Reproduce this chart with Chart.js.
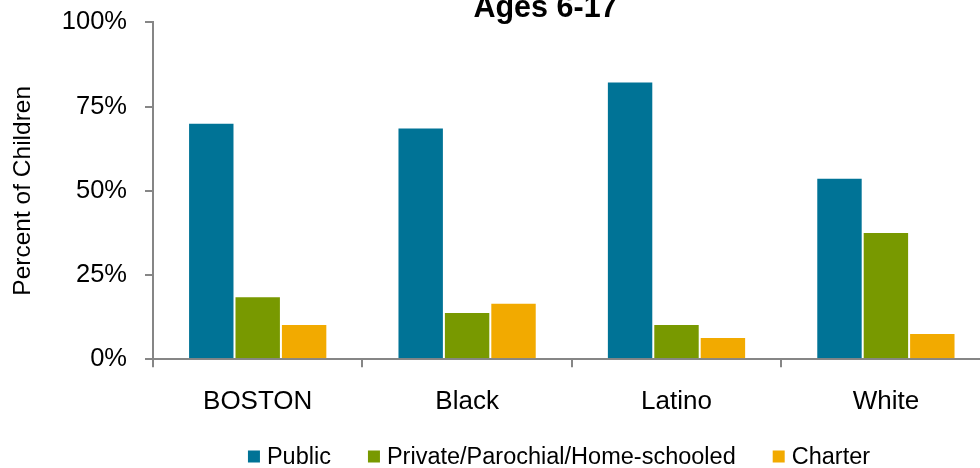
<!DOCTYPE html>
<html>
<head>
<meta charset="utf-8">
<script src="https://cdn.jsdelivr.net/npm/chart.js@4/dist/chart.umd.min.js"></script>
<style>
  html, body { margin: 0; padding: 0; overflow: hidden; background: #fff; width: 980px; height: 468px; }
  #wrap { position: absolute; left: 0; top: 0; width: 992px; height: 468px; }
</style>
</head>
<body>
<div id="wrap"><canvas id="c"></canvas></div>
<script>
const chartTitle = "Ages 6-17";
const yAxisTitle = "Percent of Children";
const categories = ["BOSTON", "Black", "Latino", "White"];
const seriesNames = ["Public", "Private/Parochial/Home-schooled", "Charter"];
const publicValues = [70.2, 68.8, 82.4, 53.9];
const privateValues = [18.7, 14.0, 10.5, 37.8];
const charterValues = [10.5, 16.8, 6.6, 7.8];
const yTicks = [0, 25, 50, 75, 100];
const seriesColors = ["#007396", "#789900", "#F2AA00"];

const FONT = "'Liberation Sans', Arial, sans-serif";
const AXIS_COLOR = "#868686";

const titlePlugin = {
  id: "customTitle",
  afterDraw(chart) {
    const ctx = chart.ctx;
    ctx.save();
    ctx.font = "bold 30.5px " + FONT;
    ctx.fillStyle = "#000";
    ctx.textAlign = "center";
    ctx.textBaseline = "alphabetic";
    ctx.fillText(chartTitle, 545.5, 17);
    ctx.restore();
  }
};

const legendPlugin = {
  id: "customLegend",
  afterDraw(chart) {
    const ctx = chart.ctx;
    ctx.save();
    ctx.font = "23.5px " + FONT;
    const box = 12, boxGap = 7, itemGap = 37;
    const items = chart.data.datasets.map(d => ({ label: d.label, color: d.backgroundColor, w: ctx.measureText(d.label).width }));
    const total = items.reduce((s, it) => s + box + boxGap + it.w, 0) + itemGap * (items.length - 1);
    let x = 559 - total / 2;
    const cy = 456.5;
    items.forEach(it => {
      ctx.fillStyle = it.color;
      ctx.fillRect(x, cy - box / 2, box, box);
      x += box + boxGap;
      ctx.fillStyle = "#000";
      ctx.textAlign = "left";
      ctx.textBaseline = "middle";
      ctx.fillText(it.label, x, cy + 1);
      x += it.w + itemGap;
    });
    ctx.restore();
  }
};

const mk = (i, vals) => ({
  label: seriesNames[i],
  data: vals,
  backgroundColor: seriesColors[i],
  borderColor: "rgba(255,255,255,0.55)",
  borderWidth: 1,
  categoryPercentage: 0.665,
  barPercentage: 1.0
});

new Chart(document.getElementById("c"), {
  type: "bar",
  data: {
    labels: categories,
    datasets: [mk(0, publicValues), mk(1, privateValues), mk(2, charterValues)]
  },
  options: {
    responsive: true,
    maintainAspectRatio: false,
    animation: false,
    devicePixelRatio: 1,
    layout: { padding: { top: 22.3, right: 1.4, bottom: 0, left: 0 } },
    plugins: {
      legend: { display: false },
      title: { display: false },
      tooltip: { enabled: false }
    },
    scales: {
      x: {
        offset: true,
        grid: { display: true, offset: true, drawOnChartArea: false, drawTicks: true, tickLength: 8, color: AXIS_COLOR, lineWidth: 2 },
        border: { display: true, color: AXIS_COLOR, width: 2 },
        ticks: { color: "#000", font: { family: FONT, size: 26 }, padding: 19, maxRotation: 0 },
        afterFit(scale) { scale.height = 468 - 359.3; scale.paddingLeft = 0; scale.paddingRight = 0; }
      },
      y: {
        min: 0,
        max: 100,
        afterBuildTicks(scale) { scale.ticks = yTicks.map(v => ({ value: v })); },
        grid: { display: true, drawOnChartArea: false, drawTicks: true, tickLength: 8, color: AXIS_COLOR, lineWidth: 2 },
        border: { display: true, color: AXIS_COLOR, width: 2 },
        ticks: { color: "#000", font: { family: FONT, size: 25.5 }, padding: 18, callback: v => v + "%" },
        title: { display: true, text: yAxisTitle, color: "#000", font: { family: FONT, size: 24.5 }, padding: { top: 9, bottom: 0 } },
        afterFit(scale) { scale.width = 153; scale.paddingTop = 0; scale.paddingBottom = 0; }
      }
    }
  },
  plugins: [titlePlugin, legendPlugin]
});
</script>
</body>
</html>
